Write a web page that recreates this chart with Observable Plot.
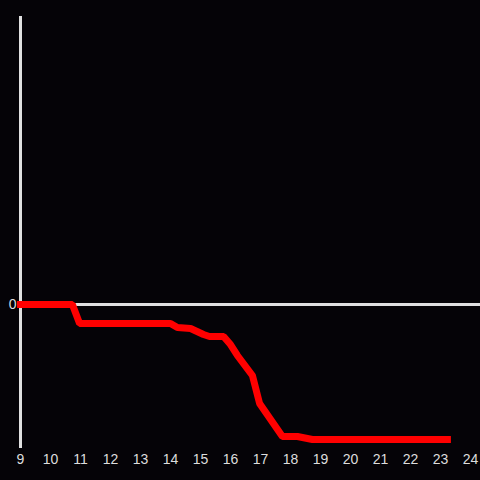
<!DOCTYPE html>
<html>
<head>
<meta charset="utf-8">
<script src="https://cdn.jsdelivr.net/npm/d3@7"></script>
<script src="https://cdn.jsdelivr.net/npm/@observablehq/plot@0.6"></script>
<style>
  html, body { margin: 0; padding: 0; background: #050307; }
  #chart { width: 480px; height: 480px; }
</style>
</head>
<body>
<div id="chart"></div>
<script>
const hours = [9, 10.73, 10.97, 14, 14.23, 14.67, 15.1, 15.3, 15.77, 16, 16.23, 16.73, 16.97, 17.73, 18.23, 18.73, 23.23];
const values = [0, 0, -0.132, -0.132, -0.16, -0.167, -0.208, -0.222, -0.222, -0.278, -0.354, -0.493, -0.6875, -0.917, -0.917, -0.9375, -0.9375];
const xTicks = [9, 10, 11, 12, 13, 14, 15, 16, 17, 18, 19, 20, 21, 22, 23, 24];
const yTicks = [0];

const data = hours.map((h, i) => ({hour: h, value: values[i]}));

const chart = Plot.plot({
  width: 480,
  height: 480,
  marginLeft: 20,
  marginRight: 10,
  marginTop: 16,
  marginBottom: 32,
  style: {background: "#050307", color: "#dddddd", fontFamily: "Liberation Sans, Arial, sans-serif", fontSize: "14px"},
  x: {domain: [9, 24]},
  y: {domain: [-1, 2]},
  marks: [
    Plot.ruleY([0], {x1: 9, x2: 24.34, stroke: "#e0e0e0", strokeWidth: 3, clip: false}),
    Plot.ruleX([9], {stroke: "#e0e0e0", strokeWidth: 3}),
    Plot.line(data, {x: "hour", y: "value", stroke: "#ff0000", strokeWidth: 7, strokeLinecap: "square", strokeLinejoin: "miter"}),
    Plot.axisX({ticks: xTicks, tickSize: 0, tickPadding: 6, tickFormat: d => String(d), fill: "#dddddd", fontSize: 14, label: null}),
    Plot.axisY({ticks: yTicks, tickSize: 0, tickPadding: 4, tickFormat: d => String(d), fill: "#dddddd", fontSize: 14, label: null})
  ]
});
document.getElementById("chart").appendChild(chart);
</script>
</body>
</html>
